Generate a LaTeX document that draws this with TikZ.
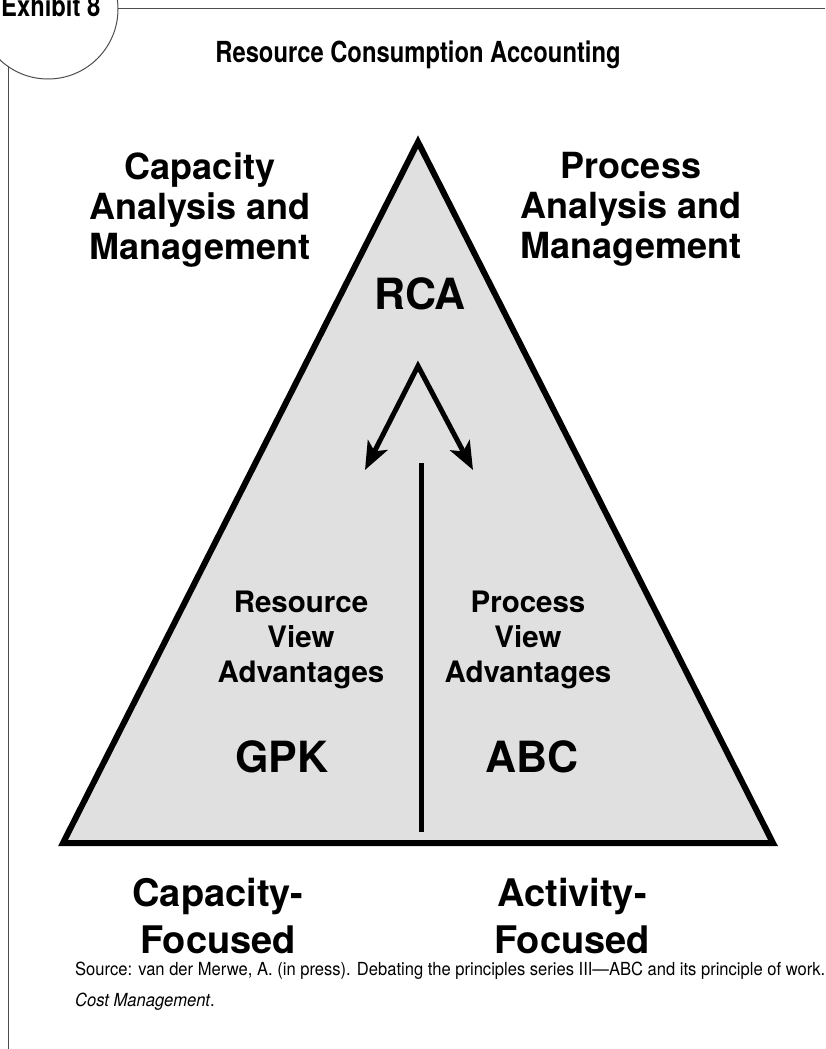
\documentclass[tikz,border=0pt]{standalone}
\usepackage{fontspec}
\setmainfont{TeX Gyre Heros}
\newfontfamily\condfont[FakeStretch=0.82]{TeX Gyre Heros}
\newfontfamily\srcfont[FakeStretch=0.92]{TeX Gyre Heros}
\usetikzlibrary{arrows.meta}

\begin{document}
\begin{tikzpicture}[x=1pt,y=-1pt,font=\bfseries,line join=miter]
      \tikzstyle{head text}=[inner sep=0,font=\condfont\bfseries\fontsize{29}{31}\selectfont]
      \tikzstyle{corner text}=[inner sep=0,anchor=north,align=center,font=\bfseries\fontsize{36}{40}\selectfont]
      \tikzstyle{view text}=[inner sep=0,anchor=north,align=center,font=\bfseries\fontsize{29.5}{35}\selectfont]
      \tikzstyle{key text}=[inner sep=0,anchor=north,font=\bfseries\fontsize{43}{46}\selectfont]
      \tikzstyle{base text}=[inner sep=0,anchor=north,align=center,font=\bfseries\fontsize{38}{47}\selectfont]
      \tikzstyle{src text}=[inner sep=0,anchor=north west,align=left,font=\srcfont\fontsize{18}{31}\selectfont]
      \tikzstyle{thick line}=[line width=5pt]
      \tikzstyle{frame line}=[line width=1pt,black!70]

      \useasboundingbox (0,0) rectangle (825,1049);
      \clip (0,0) rectangle (825,1049);

      \draw[frame line] (48,9) circle (70);
      \draw[frame line] (118,9) -- (825,9);
      \draw[frame line] (8,66) -- (8,1049);
      \node[head text,anchor=base west](exh) at (1,17) {Exhibit 8};
      \node[head text,anchor=base](title) at (418,63) {Resource Consumption Accounting};

      \coordinate (top) at (418,142);
      \coordinate (bl) at (63,843);
      \coordinate (br) at (773,843);
      \draw[line width=6pt,fill=black!12] (top) -- (br) -- (bl) -- cycle;

      \coordinate (pk) at (418,366);
      \coordinate (lt) at (365,470);
      \coordinate (rt) at (473,470);
      \draw[thick line,{Stealth[length=28pt,width=22pt,inset=7pt]}-{Stealth[length=28pt,width=22pt,inset=7pt]}] (lt) -- (pk) -- (rt);
      \coordinate (vb) at (421,832);
      \coordinate (vt) at (421,463);
      \draw[thick line] (vb) -- (vt);

      \node[corner text](capam) at (200,152) {Capacity\\Analysis and\\Management};
      \node[corner text](procam) at (631,152) {Process\\Analysis and\\Management};
      \node[key text](rca) at (420,277) {RCA};
      \node[view text](resv) at (301,591) {Resource\\View\\Advantages};
      \node[view text](procv) at (528,591) {Process\\View\\Advantages};
      \node[key text](gpk) at (282,740) {GPK};
      \node[key text](abc) at (532,740) {ABC};
      \node[base text](capf) at (218,878) {Capacity-\\Focused};
      \node[base text](actf) at (572,878) {Activity-\\Focused};

      \node[src text](src) at (75,962) {Source: van der Merwe, A. (in press). Debating the principles series III—ABC and its principle of work.\\\textit{Cost Management}.};
\end{tikzpicture}
\end{document}
